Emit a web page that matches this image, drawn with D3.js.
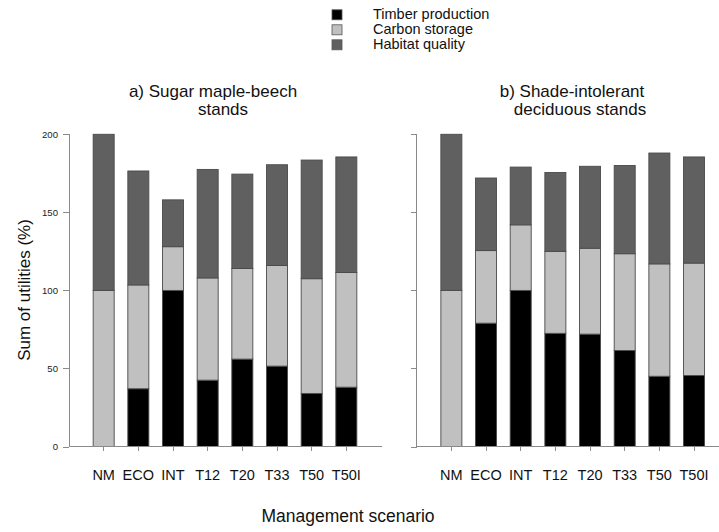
<!DOCTYPE html>
<html lang="en">
<head>
	<meta charset="utf-8">
	<title>Sum of utilities by management scenario</title>
<style>
body {
	margin: 0;
	background: #fff;
}
svg {
	display: block;
	font-family: "Liberation Sans", Arial, sans-serif;
}
.axis path, .axis line {
	stroke: #8a8a8a;
	shape-rendering: crispEdges;
}
.axis text {
	fill: #222;
	font-size: 9.6px;
}
.xlab {
	font-size: 14.5px;
	fill: #111;
	text-anchor: middle;
}
.title {
	font-size: 17px;
	fill: #111;
	text-anchor: middle;
}
.legend text {
	font-size: 14.5px;
	fill: #111;
}
</style>
</head>
<body>
<div id="chart"></div>

<script src="https://cdnjs.cloudflare.com/ajax/libs/d3/7.8.5/d3.min.js"></script>
<script>
	// values (percent)
	var scenarios = ["NM", "ECO", "INT", "T12", "T20", "T33", "T50", "T50I"];
	var seriesNames = ["Timber production", "Carbon storage", "Habitat quality"];
	var yTicks = [0, 50, 100, 150, 200];

	// a) Sugar maple-beech stands
	var mapleTimber  = [0, 37, 100, 42.5, 56, 51.5, 34, 38];
	var mapleCarbon  = [100, 66.5, 28, 65.5, 58, 64.5, 73.5, 73.5];
	var mapleHabitat = [100, 73, 30, 69.5, 60.5, 64.5, 76, 74];

	// b) Shade-intolerant deciduous stands
	var shadeTimber  = [0, 79, 100, 72.5, 72, 61.5, 45, 45.5];
	var shadeCarbon  = [100, 46.5, 42, 52.5, 55, 62, 72, 72];
	var shadeHabitat = [100, 46.5, 37, 50.5, 52.5, 56.5, 71, 68];

	var colors = ["#000000", "#c0c0c0", "#606060"];

	var width = 719, height = 532;

	var svg = d3.select("#chart").append("svg")
		.attr("width", width)
		.attr("height", height);

	var y = d3.scaleLinear().domain([0, 200]).range([446.5, 134.3]);

	function makeRows(t, c, h) {
		return scenarios.map(function(s, i) {
			return {scenario: s, "Timber production": t[i], "Carbon storage": c[i], "Habitat quality": h[i]};
		});
	}

	var stack = d3.stack().keys(seriesNames);

	function drawPanel(x0, rows, showLabels, titleLines) {
		var x = d3.scaleBand()
			.domain(scenarios)
			.range([x0, x0 + 312])
			.paddingInner(0.394)
			.paddingOuter(0.697);

		var g = svg.append("g");

		// bars
		var layers = stack(rows);
		g.selectAll("g.layer").data(layers).enter().append("g")
			.attr("class", "layer")
			.attr("fill", function(d, i) { return colors[i]; })
			.selectAll("rect").data(function(d) { return d; }).enter().append("rect")
				.attr("x", function(d) { return x(d.data.scenario); })
				.attr("y", function(d) { return y(d[1]); })
				.attr("width", x.bandwidth())
				.attr("height", function(d) { return y(d[0]) - y(d[1]); })
				.attr("stroke", "#4a4a4a")
				.attr("stroke-width", 0.9)
				.style("display", function(d) { return d[1] - d[0] > 0 ? null : "none"; });

		// y axis
		var yAxis = d3.axisLeft(y).tickValues(yTicks).tickSize(6).tickPadding(5);
		if (!showLabels) yAxis.tickFormat("");
		g.append("g").attr("class", "axis")
			.attr("transform", "translate(" + x0 + ",0)")
			.call(yAxis)
			.call(function(a) { a.select(".domain").attr("d", "M0," + y(200) + "V" + y(0)); });

		// x axis
		var xAxis = d3.axisBottom(x).tickSize(4).tickFormat("");
		g.append("g").attr("class", "axis")
			.attr("transform", "translate(0," + y(0) + ")")
			.call(xAxis)
			.call(function(a) { a.select(".domain").attr("d", "M" + x0 + ",0H" + (x0 + 313)); });

		g.selectAll("text.xlab").data(scenarios).enter().append("text")
			.attr("class", "xlab")
			.attr("x", function(d) { return x(d) + x.bandwidth() / 2; })
			.attr("y", 480)
			.text(function(d) { return d; });

		titleLines.forEach(function(t) {
			g.append("text").attr("class", "title")
				.attr("x", t.x).attr("y", t.y).text(t.text);
		});
	}

	drawPanel(69, makeRows(mapleTimber, mapleCarbon, mapleHabitat), true, [
		{text: "a) Sugar maple-beech", x: 213, y: 96.7},
		{text: "stands", x: 223, y: 115}
	]);
	drawPanel(416.7, makeRows(shadeTimber, shadeCarbon, shadeHabitat), false, [
		{text: "b) Shade-intolerant", x: 572, y: 96.7},
		{text: "deciduous stands", x: 580, y: 115}
	]);

	// axis titles
	svg.append("text").attr("class", "title")
		.attr("transform", "translate(30,290) rotate(-90)")
		.text("Sum of utilities (%)");
	svg.append("text").attr("class", "title")
		.style("font-size", "17.5px")
		.attr("x", 348).attr("y", 522)
		.text("Management scenario");

	// legend
	var legend = svg.append("g").attr("class", "legend");
	var ly = d3.scalePoint().domain(seriesNames).range([19.3, 49.3]);
	var items = legend.selectAll("g").data(seriesNames).enter().append("g");
	items.append("rect")
		.attr("x", 332).attr("y", function(d) { return ly(d) - 9.5; })
		.attr("width", 10).attr("height", 10)
		.attr("fill", function(d, i) { return colors[i]; })
		.attr("stroke", "#555").attr("stroke-width", 0.8);
	items.append("text")
		.attr("x", 373).attr("y", function(d) { return ly(d); })
		.text(function(d) { return d; });
</script>
</body>
</html>
